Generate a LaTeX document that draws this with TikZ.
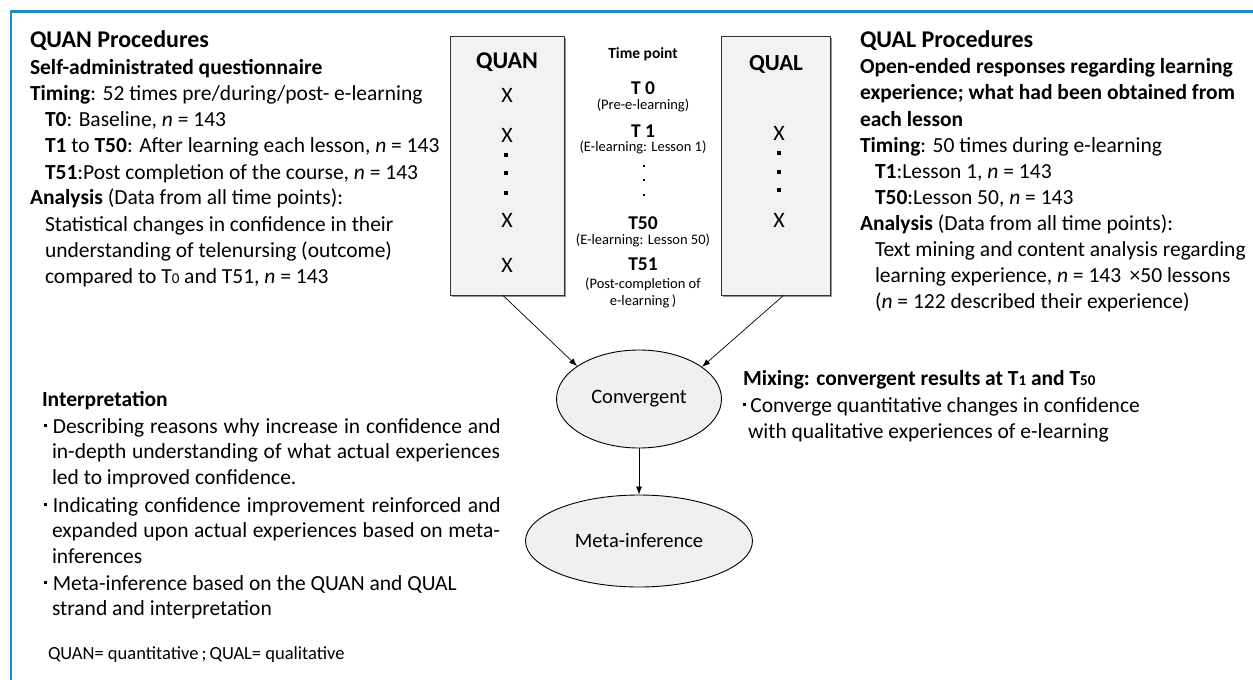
\documentclass[tikz,border=0pt]{standalone}
\usepackage{fontspec}
\setmainfont{Carlito}
\usetikzlibrary{arrows.meta,shadows,shapes.geometric}
\definecolor{framecol}{RGB}{31,138,200}
\definecolor{boxfill}{RGB}{242,242,242}
\definecolor{ellfill}{RGB}{240,240,240}
\newcommand\bodyfont{\fontsize{21.5}{26}\selectfont}
\newcommand\titlefont{\fontsize{24}{28}\selectfont\bfseries}
\newcommand\smallnum[1]{{\fontsize{15}{15}\selectfont #1}}
\newcommand\mybul[1]{\raisebox{6.5pt}{\rule{2.8pt}{2.8pt}}\hspace{#1}}
\begin{document}
\begin{tikzpicture}[x=1pt,y=-1pt,
  ln/.style={anchor=base west, inner sep=0pt, outer sep=0pt, font=\bodyfont},
  ctr/.style={anchor=base, inner sep=0pt, outer sep=0pt},
  tbig/.style={ctr, font=\fontsize{19.5}{22}\selectfont\bfseries},
  tsmall/.style={ctr, font=\fontsize{14.5}{17}\selectfont},
  xm/.style={ctr, font=\fontsize{22}{22}\selectfont},
  dotmark/.style={rectangle, fill=black, inner sep=0pt, minimum size=3.3pt},
  tdot/.style={rectangle, fill=black, inner sep=0pt, minimum size=2.4pt},
  strandbox/.style={rectangle, draw=black!80, line width=0.9pt, fill=boxfill, inner sep=0pt,
     minimum height=259pt, drop shadow={shadow xshift=2pt, shadow yshift=-2pt, fill=black!60, opacity=0.7}},
  ell/.style={ellipse, draw=black, line width=0.9pt, fill=ellfill, inner sep=0pt,
     font=\fontsize{20.5}{24}\selectfont},
  arr/.style={-{Latex[length=8pt,width=6pt]}, line width=0.7pt}
]
\useasboundingbox (0,0) rectangle (1253,680);
\fill[white] (0,0) rectangle (1253,680);
\draw[framecol, line width=2.5pt] (1253,11.3) -- (10.8,11.3) -- (10.8,680);

% QUAN procedures
\node[ln, font=\titlefont] (qnT) at (30,47) {QUAN Procedures};
\node[ln, font=\bodyfont\bfseries] (qn1) at (30,74) {Self-administrated questionnaire};
\node[ln] (qn2) at (30,100.5) {\textbf{Timing}: 52 times pre/during/post- e-learning};
\node[ln] (qn3) at (45,126.5) {\textbf{T0}: Baseline, \textit{n} = 143};
\node[ln] (qn4) at (45,152.5) {\textbf{T1} to \textbf{T50}: After learning each lesson, \textit{n} = 143};
\node[ln] (qn5) at (45,179) {\textbf{T51}:Post completion of the course, \textit{n} = 143};
\node[ln] (qn6) at (30,204.5) {\textbf{Analysis} (Data from all time points):};
\node[ln] (qn7) at (45,231) {Statistical changes in confidence in their};
\node[ln] (qn8) at (45,257) {understanding of telenursing (outcome)};
\node[ln] (qn9) at (45,283) {compared to T\smallnum{0} and T51, \textit{n} = 143};

% QUAL procedures
\node[ln, font=\titlefont] (qlT) at (860,47) {QUAL Procedures};
\node[ln, font=\bodyfont\bfseries] (ql1) at (860,73.5) {Open-ended responses regarding learning};
\node[ln, font=\bodyfont\bfseries] (ql2) at (860,99.5) {experience; what had been obtained from};
\node[ln, font=\bodyfont\bfseries] (ql3) at (860,126) {each lesson};
\node[ln] (ql4) at (860,152) {\textbf{Timing}: 50 times during e-learning};
\node[ln] (ql5) at (875,178) {\textbf{T1}:Lesson 1, \textit{n} = 143};
\node[ln] (ql6) at (875,204) {\textbf{T50}:Lesson 50, \textit{n} = 143};
\node[ln] (ql7) at (860,230) {\textbf{Analysis} (Data from all time points):};
\node[ln] (ql8) at (875,256) {Text mining and content analysis regarding};
\node[ln] (ql9) at (875,282) {learning experience, \textit{n} = 143 \,×50 lessons};
\node[ln] (ql10) at (875,308) {(\textit{n} = 122 described their experience)};

% strand boxes
\node[strandbox, minimum width=114pt] (quan) at (507,165.5) {};
\node[strandbox, minimum width=109pt] (qual) at (775.5,165.5) {};
\node[ctr, font=\fontsize{24}{28}\selectfont\bfseries] (quanL) at (507,68) {QUAN};
\node[ctr, font=\fontsize{23}{28}\selectfont\bfseries] (qualL) at (776,70) {QUAL};

\node[xm] (qx1) at (507,102) {X};
\node[xm] (qx2) at (507,142) {X};
\node[dotmark] (qd1) at (506,155) {};
\node[dotmark] (qd2) at (506,173) {};
\node[dotmark] (qd3) at (506,193) {};
\node[xm] (qx3) at (507,227) {X};
\node[xm] (qx4) at (507,272) {X};

\node[xm] (lx1) at (779,140) {X};
\node[dotmark] (ld1) at (779,153) {};
\node[dotmark] (ld2) at (779,172) {};
\node[dotmark] (ld3) at (779,190) {};
\node[xm] (lx2) at (779,227) {X};

% time points
\node[ctr, font=\fontsize{15.5}{18}\selectfont\bfseries] (tp) at (643,58) {Time point};
\node[tbig] (t0) at (643,94) {T 0};
\node[tsmall] (t0s) at (643,109.5) {(Pre-e-learning)};
\node[tbig] (t1) at (643,137) {T 1};
\node[tsmall] (t1s) at (643,151.5) {(E-learning: Lesson 1)};
\node[tdot] (td1) at (644,166) {};
\node[tdot] (td2) at (644,180) {};
\node[tdot] (td3) at (644,195) {};
\node[tbig] (t50) at (643,229.5) {T50};
\node[tsmall] (t50s) at (643,244) {(E-learning: Lesson 50)};
\node[tbig] (t51) at (643,270) {T51};
\node[tsmall] (t51s) at (643,288) {(Post-completion of};
\node[tsmall] (t51t) at (643,305) {e-learning\,)};

% ellipses
\node[ell, minimum width=165pt, minimum height=98pt] (conv) at (639,399) {Convergent};
\node[ell, minimum width=227pt, minimum height=92pt] (meta) at (639,541) {Meta-inference};

\draw[arr] ([xshift=-4pt]quan.south) -- (conv.152);
\draw[arr] ([xshift=8pt]qual.south) -- (conv.27);
\draw[arr] (conv.south) -- (meta.north);

% mixing
\node[ln, font=\bodyfont\bfseries] (mxT) at (743,385) {Mixing: convergent results at T\smallnum{1} and T\smallnum{50}};
\node[ln] (mx1) at (743,412) {\mybul{4.5pt}Converge quantitative changes in confidence};
\node[ln] (mx2) at (748,438) {with qualitative experiences of e-learning};

% interpretation
\node[ln, font=\bodyfont\bfseries] (inT) at (42,406) {Interpretation};
\node[ln] (in1) at (44,433) {\mybul{6pt}\makebox[448pt][s]{Describing reasons why increase in confidence and}};
\node[ln] (in2) at (52,458) {\makebox[448pt][s]{in-depth understanding of what actual experiences}};
\node[ln] (in3) at (52,484) {led to improved confidence.};
\node[ln] (in4) at (44,512) {\mybul{6pt}\makebox[448pt][s]{Indicating confidence improvement reinforced and}};
\node[ln] (in5) at (52,537) {\makebox[448pt][s]{expanded upon actual experiences based on meta-}};
\node[ln] (in6) at (52,563) {inferences};
\node[ln] (in7) at (44,590) {\mybul{6pt}Meta-inference based on the QUAN and QUAL};
\node[ln] (in8) at (52,615) {strand and interpretation};

% footer
\node[ln, font=\fontsize{18.5}{22}\selectfont] (ft) at (48,659) {QUAN= quantitative\,;\,QUAL= qualitative};
\end{tikzpicture}
\end{document}
